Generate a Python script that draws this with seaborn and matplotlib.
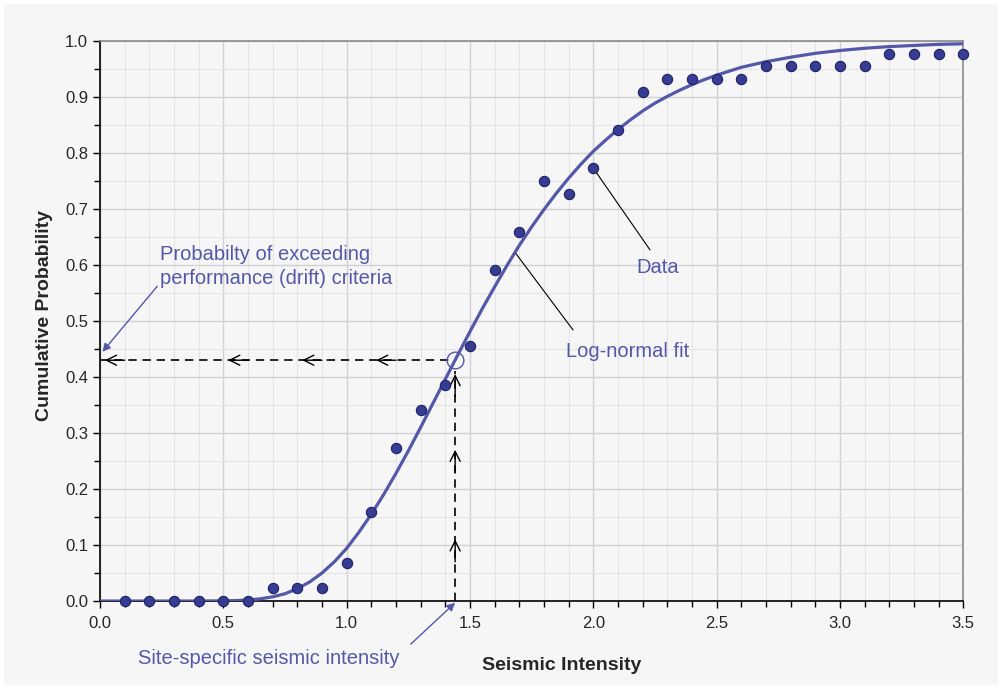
import numpy as np
import pandas as pd
from matplotlib import pyplot as plt
from matplotlib.ticker import MultipleLocator
import seaborn as sns

# observed cumulative probability of exceeding drift criteria
intensity = [0.1, 0.2, 0.3, 0.4, 0.5, 0.6, 0.7, 0.8, 0.9, 1.0,
             1.1, 1.2, 1.3, 1.4, 1.5, 1.6, 1.7, 1.8, 1.9, 2.0,
             2.1, 2.2, 2.3, 2.4, 2.5, 2.6, 2.7, 2.8, 2.9, 3.0,
             3.1, 3.2, 3.3, 3.4, 3.5]
probability = [0.0, 0.0, 0.0, 0.0, 0.0, 0.0, 0.023, 0.023, 0.023, 0.068,
               0.159, 0.273, 0.341, 0.386, 0.455, 0.591, 0.659, 0.750, 0.727, 0.773,
               0.841, 0.909, 0.932, 0.932, 0.932, 0.932, 0.955, 0.955, 0.955, 0.955,
               0.955, 0.977, 0.977, 0.977, 0.977]

# log-normal fit
fit_x = [0.0, 0.1, 0.2, 0.3, 0.4, 0.5, 0.55, 0.6, 0.65, 0.7, 0.75, 0.8, 0.85, 0.9, 0.95,
         1.0, 1.05, 1.1, 1.15, 1.2, 1.25, 1.3, 1.35, 1.4, 1.45, 1.5, 1.55, 1.6, 1.65,
         1.7, 1.75, 1.8, 1.85, 1.9, 1.95, 2.0, 2.05, 2.1, 2.15, 2.2, 2.25, 2.3, 2.35,
         2.4, 2.45, 2.5, 2.6, 2.7, 2.8, 2.9, 3.0, 3.1, 3.2, 3.3, 3.4, 3.5]
fit_y = [0.0, 0.0, 0.0, 0.0, 0.0, 0.0003, 0.0008, 0.0018, 0.0039, 0.0075, 0.013, 0.022, 0.034, 0.050, 0.070,
         0.094, 0.123, 0.155, 0.190, 0.228, 0.268, 0.310, 0.353, 0.396, 0.439, 0.481, 0.522, 0.561, 0.599,
         0.635, 0.668, 0.699, 0.728, 0.755, 0.780, 0.803, 0.823, 0.842, 0.859, 0.875, 0.889, 0.901, 0.912,
         0.922, 0.931, 0.939, 0.953, 0.963, 0.971, 0.978, 0.983, 0.987, 0.990, 0.992, 0.994, 0.995]

# site-specific intensity and resulting probability
site_im = 1.44
site_p = 0.43

x_ticks = [0.0, 0.5, 1.0, 1.5, 2.0, 2.5, 3.0, 3.5]
y_ticks = [0.0, 0.1, 0.2, 0.3, 0.4, 0.5, 0.6, 0.7, 0.8, 0.9, 1.0]

blue = '#5458a8'
dot = '#363c92'
bg = '#f6f6f6'

sns.set_style("ticks")
plt.rcParams['font.family'] = ['Liberation Sans', 'DejaVu Sans']

df = pd.DataFrame({"x": intensity, "p": probability})
fit = pd.DataFrame({"x": fit_x, "p": fit_y})

fig = plt.figure(figsize=(10.02, 6.89), dpi=100, facecolor='white')
fig.patches.append(plt.Rectangle((0.004, 0.006), 0.992, 0.988, transform=fig.transFigure,
                                 facecolor=bg, edgecolor='none', zorder=-10))
ax = fig.add_axes([0.0998, 0.1277, 0.8615, 0.8128])
ax.set_facecolor(bg)

sns.lineplot(data=fit, x="x", y="p", ax=ax, color=blue, linewidth=2.3, zorder=3)
sns.scatterplot(data=df, x="x", y="p", ax=ax, color=dot, edgecolor='#1e2166',
                linewidth=0.8, s=55, zorder=4, clip_on=False)

# dashed guide lines with open arrow heads
ax.plot([0, site_im], [site_p, site_p], ls=(0, (5, 3.5)), color='black', lw=1.2, zorder=2)
ax.plot([site_im, site_im], [0, site_p - 0.02], ls=(0, (5, 3.5)), color='black', lw=1.2, zorder=2)
for hx in [0.0, 0.5, 0.8, 1.1]:
    ax.annotate('', xy=(hx + 0.02, site_p), xytext=(hx + 0.1, site_p),
                arrowprops=dict(arrowstyle='->', color='black', lw=1.0,
                                mutation_scale=18, shrinkA=0, shrinkB=0))
for vy in [0.11, 0.27, 0.405]:
    ax.annotate('', xy=(site_im, vy), xytext=(site_im, vy - 0.04),
                arrowprops=dict(arrowstyle='->', color='black', lw=1.0,
                                mutation_scale=18, shrinkA=0, shrinkB=0))
ax.plot([site_im], [site_p], marker='o', ms=12, mfc='none', mec=blue, mew=1.0, zorder=5)

# annotations
ax.text(0.243, 0.597, "Probabilty of exceeding\nperformance (drift) criteria", color=blue,
        fontsize=14.5, va='center', ha='left', linespacing=1.3)
ax.annotate('', xy=(0.01, 0.445), xytext=(0.232, 0.562),
            arrowprops=dict(arrowstyle='-|>', color=blue, lw=1.0, mutation_scale=12,
                            shrinkA=0, shrinkB=0))
ax.text(2.26, 0.595, "Data", color=blue, fontsize=14.5, ha='center', va='center')
ax.plot([2.0, 2.23], [0.773, 0.627], color='black', lw=0.8, zorder=3)
ax.text(2.14, 0.445, "Log-normal fit", color=blue, fontsize=14.5, ha='center', va='center')
ax.plot([1.687, 1.918], [0.62, 0.484], color='black', lw=0.8, zorder=3)
ax.text(0.685, -0.102, "Site-specific seismic intensity", color=blue, fontsize=14.5,
        ha='center', va='center', clip_on=False)
ax.annotate('', xy=(site_im, -0.003), xytext=(1.26, -0.077), annotation_clip=False,
            arrowprops=dict(arrowstyle='-|>', color=blue, lw=1.0, mutation_scale=12,
                            shrinkA=0, shrinkB=0))

ax.set_xlim(0, 3.5)
ax.set_ylim(0, 1.0)
ax.set_xticks(x_ticks)
ax.set_xticklabels([f"{t:.1f}" for t in x_ticks])
ax.set_yticks(y_ticks)
ax.set_yticklabels([f"{t:.1f}" for t in y_ticks])
ax.xaxis.set_minor_locator(MultipleLocator(0.1))
ax.yaxis.set_minor_locator(MultipleLocator(0.05))
ax.tick_params(axis='both', which='major', labelsize=12, length=5, width=1, color='black')
ax.tick_params(axis='both', which='minor', length=4, width=1, color='black')
ax.tick_params(axis='x', pad=6)

ax.grid(True, which='major', color='#d2d2d2', lw=1.0, zorder=0)
ax.grid(True, which='minor', color='#e4e4e4', lw=0.8, zorder=0)
ax.set_axisbelow(True)

for s in ['left', 'bottom']:
    ax.spines[s].set_color('black')
    ax.spines[s].set_linewidth(1.2)
for s in ['top', 'right']:
    ax.spines[s].set_visible(True)
    ax.spines[s].set_color('#8c8c8c')
    ax.spines[s].set_linewidth(1.2)

ax.set_xlabel("Seismic Intensity", fontsize=14, fontweight='bold')
ax.set_ylabel("Cumulative Probability", fontsize=14, fontweight='bold')
ax.xaxis.set_label_coords(0.535, -0.1)
ax.yaxis.set_label_coords(-0.055, 0.51)

plt.savefig("out.png", dpi=100, facecolor=fig.get_facecolor())
